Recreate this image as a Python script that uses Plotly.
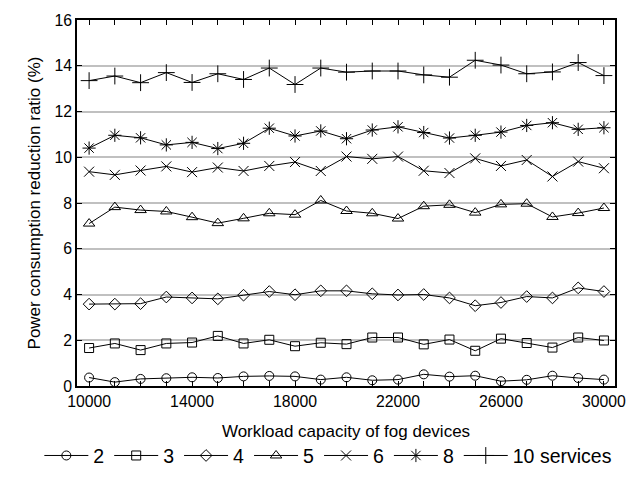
import plotly.graph_objects as go

x = list(range(10000, 30001, 1000))

s2 = [0.37, 0.17, 0.31, 0.34, 0.38, 0.35, 0.42, 0.44, 0.42, 0.28, 0.38,
      0.25, 0.28, 0.51, 0.41, 0.45, 0.21, 0.27, 0.45, 0.35, 0.28]
s3 = [1.66, 1.86, 1.57, 1.86, 1.90, 2.19, 1.86, 2.02, 1.74, 1.89, 1.83,
      2.12, 2.12, 1.82, 2.03, 1.54, 2.07, 1.88, 1.68, 2.12, 1.99]
s4 = [3.58, 3.58, 3.60, 3.89, 3.85, 3.81, 3.97, 4.13, 3.99, 4.16, 4.16,
      4.03, 3.98, 4.00, 3.85, 3.51, 3.65, 3.91, 3.85, 4.29, 4.13]
s5 = [7.10, 7.82, 7.69, 7.63, 7.38, 7.12, 7.33, 7.55, 7.49, 8.11, 7.65,
      7.55, 7.32, 7.86, 7.92, 7.58, 7.94, 7.97, 7.39, 7.56, 7.78]
s6 = [9.37, 9.23, 9.42, 9.60, 9.35, 9.55, 9.40, 9.62, 9.79, 9.40, 10.03,
      9.93, 10.03, 9.41, 9.31, 9.95, 9.62, 9.88, 9.16, 9.81, 9.52]
s8 = [10.40, 10.96, 10.85, 10.54, 10.65, 10.38, 10.61, 11.27, 10.93, 11.15, 10.81,
      11.19, 11.33, 11.08, 10.84, 10.96, 11.10, 11.39, 11.51, 11.22, 11.29]
s10 = [13.35, 13.55, 13.26, 13.70, 13.27, 13.65, 13.40, 13.90, 13.18, 13.90, 13.72,
       13.77, 13.77, 13.60, 13.50, 14.24, 14.03, 13.65, 13.73, 14.14, 13.57]

names = ["2", "3", "4", "5", "6", "8", "10 services"]
series = [s2, s3, s4, s5, s6, s8, s10]
symbols = ["circle-open", "square-open", "diamond-open", "triangle-up-open",
           "x-thin-open", "asterisk-open", "cross-thin-open"]
sizes = [9, 9, 9, 10, 10, 11, 12]

x_tickvals = list(range(10000, 30001, 4000))
y_tickvals = list(range(0, 17, 2))

fig = go.Figure()
for n, s, sym, sz in zip(names, series, symbols, sizes):
    fig.add_trace(go.Scatter(
        x=x, y=s, name=n, mode="lines+markers",
        line=dict(color="black", width=1),
        marker=dict(symbol=sym, size=sz, color="black",
                    line=dict(color="black", width=1)),
    ))

font = "Liberation Sans, Arial, sans-serif"
fig.update_layout(
    width=642, height=487,
    margin=dict(l=77, r=27, t=16, b=93),
    paper_bgcolor="white", plot_bgcolor="white",
    font=dict(family=font, size=14.3, color="black"),
    showlegend=True,
    legend=dict(orientation="h", x=-0.07, xanchor="left", y=-0.244, yanchor="bottom",
                font=dict(size=19.5), itemwidth=44,
                bgcolor="rgba(0,0,0,0)"),
    xaxis=dict(
        range=[9530, 30430], tickvals=x_tickvals, tickformat="d",
        ticks="inside", ticklen=5, tickcolor="black",
        minor=dict(dtick=1000, tick0=10000, ticks="inside", ticklen=5, tickcolor="black"),
        showline=True, linecolor="black", linewidth=1.5, mirror="ticks",
        showgrid=False, zeroline=False,
        title=dict(text="Workload capacity of fog devices", standoff=16),
        tickfont=dict(size=15.8),
    ),
    yaxis=dict(
        range=[0, 16], tickvals=y_tickvals,
        ticks="inside", ticklen=5, tickcolor="black",
        showline=True, linecolor="black", linewidth=1.5, mirror="ticks",
        showgrid=True, gridcolor="#c0c0c0", gridwidth=1.5, zeroline=False,
        title=dict(text="Power consumption reduction ratio (%)", standoff=10),
        tickfont=dict(size=15.8),
    ),
)

fig.write_html("out.html")
